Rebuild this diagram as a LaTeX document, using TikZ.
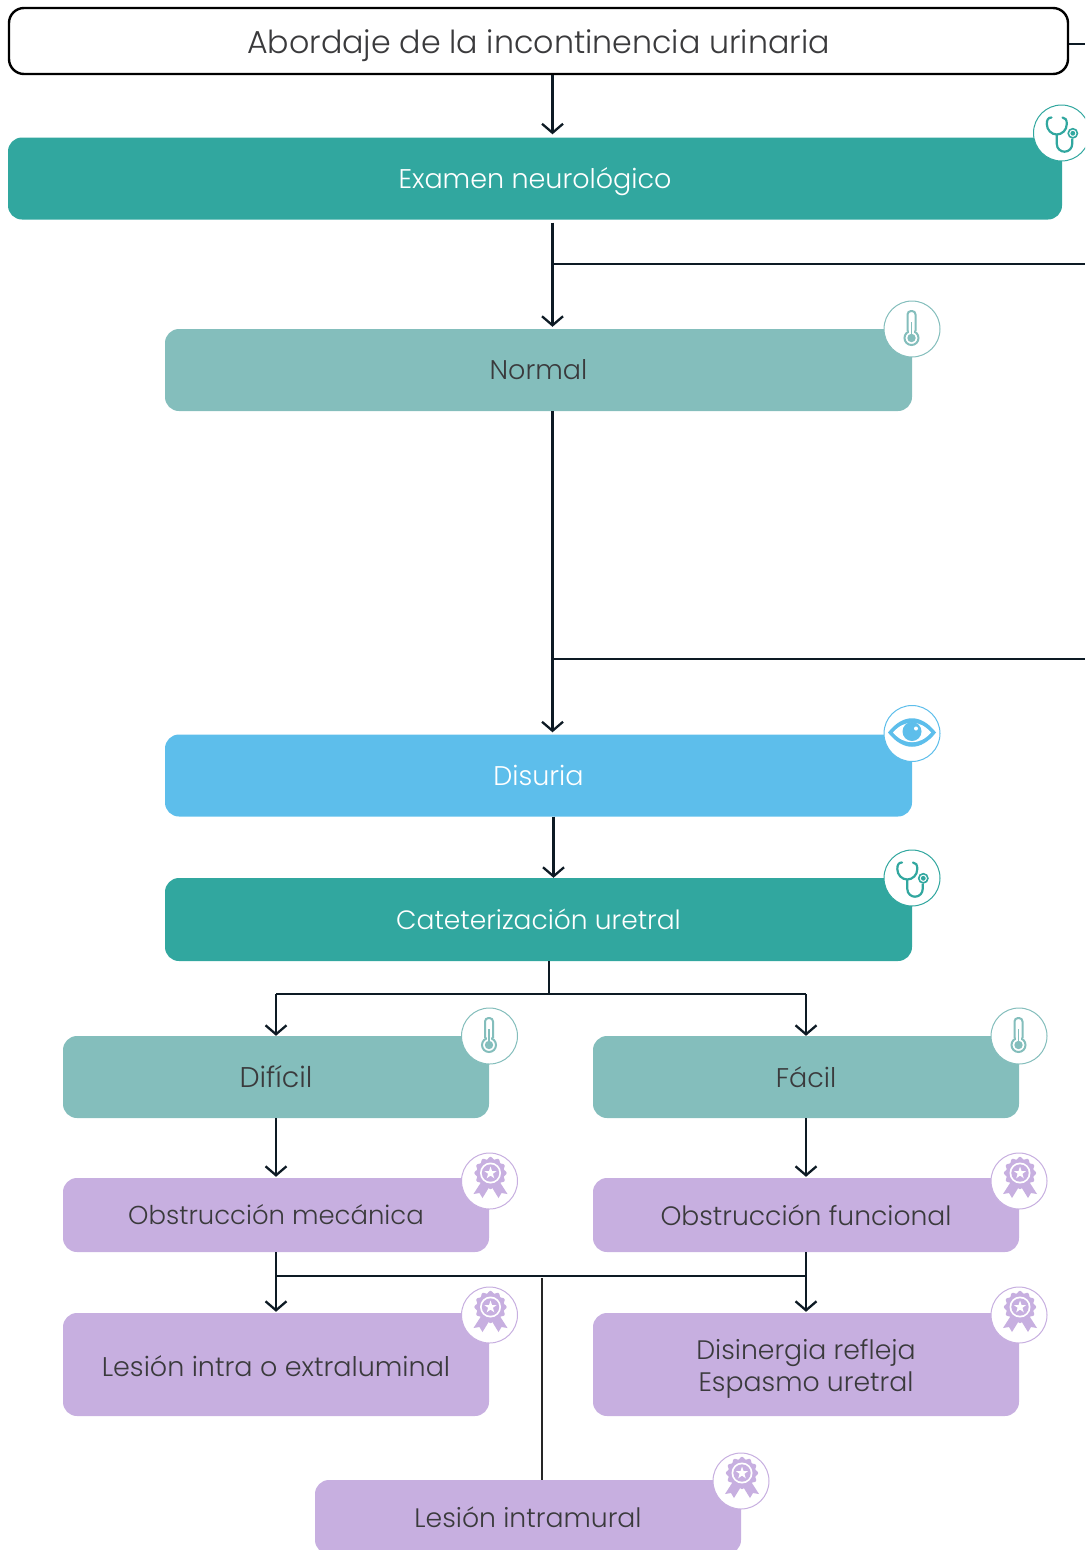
\documentclass[tikz,border=0pt]{standalone}
\usepackage{fontspec}
\setmainfont{Poppins Light}
\usetikzlibrary{arrows.meta}
\definecolor{teal1}{HTML}{31A79F}
\definecolor{teal2}{HTML}{84BEBC}
\definecolor{sky1}{HTML}{5DBEEB}
\definecolor{lila}{HTML}{C7AFE0}
\definecolor{ink}{HTML}{3A3A3C}
\definecolor{wire}{HTML}{0D1A24}
\newcommand\lowered[2]{\raisebox{-#1pt}[\height][\depth]{#2}}
\newcommand\fsz[1]{\fontsize{#1}{32}\selectfont}
\tikzset{
 x=1pt,y=-1pt,
 box/.style={rounded corners=14pt,draw=none,inner sep=0pt},
 lab/.style={font=\fontsize{27}{32}\selectfont,align=center,text=#1},
 link/.style={draw=wire,line width=1.6pt},
 linkar/.style={draw=wire,line width=2.5pt,-{Straight Barb[length=9pt,width=21pt,line width=2.3pt]}},
 badge/.style={circle,draw=#1,fill=white,line width=1pt,minimum size=56pt,inner sep=0pt},
 pics/steth/.style={code={
  \draw[#1,line width=2.2pt,line cap=round,fill=none]
   (-10,-15.5) .. controls (-13.5,-15.5) and (-14.7,-13) .. (-14.7,-9) .. controls (-14.7,-3) and (-10,1.5) .. (-4.7,1.5) .. controls (0.5,1.5) and (5.3,-3) .. (5.3,-9) .. controls (5.3,-13) and (4,-15.5) .. (1,-15.5);
  \draw[#1,line width=2.2pt,fill=none]
   (-4.7,1.5) -- (-4.7,11) .. controls (-4.7,16) and (-0.5,18.7) .. (3,18.7) .. controls (7.5,18.7) and (10.7,15) .. (10.7,11) -- (10.7,5.5);
  \draw[#1,line width=1.6pt,fill=white] (11.3,0.3) circle (4.6);
  \fill[#1] (11.3,0.3) circle (2.4);
 }},
 pics/thermo/.style={code={
  \draw[#1,line width=2pt,fill=white,rounded corners=3.5pt]
   (-4.5,2) -- (-4.5,-18) -- (3.5,-18) -- (3.5,2);
  \draw[#1,line width=2pt,fill=white] (-0.5,9) circle (7);
  \fill[white] (-2.9,0) rectangle (1.9,6);
  \fill[#1] (-0.5,9) circle (4.2);
  \draw[#1,line width=1.5pt] (-0.5,9) -- (-0.5,-7);
 }},
 pics/eyeball/.style={code={
  \fill[#1] (-24,-1) .. controls (-9,-20) and (9,-20) .. (24,-1) .. controls (9,18) and (-9,18) .. (-24,-1) -- cycle;
  \fill[white] (-19,-1) .. controls (-8,-14) and (8,-14) .. (19,-1) .. controls (8,12) and (-8,12) .. (-19,-1) -- cycle;
  \fill[#1] (0,-2) circle (9.5);
  \fill[white] (4,-5) circle (2);
 }},
 pics/ribbon/.style={code={
  \fill[#1] (-7,-1) -- (-16,13) -- (-10,12) -- (-7,17) -- (1,4) -- cycle;
  \fill[#1] (9,-1) -- (18,13) -- (12,12) -- (9,17) -- (1,4) -- cycle;
  \fill[#1] plot[domain=0:360,samples=121,smooth,variable=\t] ({1+(15+1.1*cos(12*\t))*cos(\t)},{-8+(15+1.1*cos(12*\t))*sin(\t)}) -- cycle;
  \fill[white] (1,-8) circle (10.5);
  \fill[#1] (1,-8) circle (8.7);
  \fill[white] (1,-14.5) -- (2.5,-10) -- (7.2,-10) -- (3.4,-7.2) -- (4.8,-2.7) -- (1,-5.4) -- (-2.8,-2.7) -- (-1.4,-7.2) -- (-5.2,-10) -- (-0.5,-10) -- cycle;
 }},
}
\begin{document}
\begin{tikzpicture}
\useasboundingbox (0,0) rectangle (1085,1550);
\begin{scope}
\clip (0,0) rectangle (1085,1550);
% boxes
\node[draw=black,fill=white,line width=2.4pt,rounded corners=15pt,minimum width=1059pt,minimum height=66pt,inner sep=0pt,lab=ink,font=\fsz{31.7}] (top) at (538.5,41) {\lowered{4.5}{Abordaje de la incontinencia urinaria}};
\node[box,fill=teal1,minimum width=1054pt,minimum height=82pt,lab=white] (exam) at (535,178.5) {\lowered{3}{Examen neurológico}};
\node[box,fill=teal2,minimum width=747pt,minimum height=82pt,lab=ink] (normal) at (538.5,370) {Normal};
\node[box,fill=sky1,minimum width=747pt,minimum height=82pt,lab=white] (disuria) at (538.5,775.5) {Disuria};
\node[box,fill=teal1,minimum width=747pt,minimum height=83pt,lab=white,font=\fsz{26.5}] (cat) at (538.5,919.5) {Cateterización uretral};
\node[box,fill=teal2,minimum width=426pt,minimum height=82pt,lab=ink,font=\fsz{28.5}] (dificil) at (276,1077) {Difícil};
\node[box,fill=teal2,minimum width=426pt,minimum height=82pt,lab=ink] (facil) at (806,1077) {Fácil};
\node[box,fill=lila,minimum width=426pt,minimum height=74pt,lab=ink,font=\fsz{25.9}] (mec) at (276,1215) {Obstrucción mecánica};
\node[box,fill=lila,minimum width=426pt,minimum height=74pt,lab=ink,font=\fsz{26.6}] (func) at (806,1215) {Obstrucción funcional};
\node[box,fill=lila,minimum width=426pt,minimum height=103pt,lab=ink] (intra) at (276,1364.5) {\lowered{1.5}{Lesión intra o extraluminal}};
\node[box,fill=lila,minimum width=426pt,minimum height=103pt,lab=ink,font=\fsz{26.7}] (disin) at (806,1364.5) {\lowered{4}{Disinergia refleja}\\\lowered{4}{Espasmo uretral}};
\node[box,fill=lila,minimum width=426pt,minimum height=74pt,lab=ink,font=\fsz{26.7}] (mural) at (528,1517) {Lesión intramural};
% helper coordinates
\coordinate (xa) at (552.5,0);
\coordinate (xb) at (553.5,0);
\coordinate (xc) at (549,0);
\coordinate (xd) at (542,0);
\coordinate (ja) at (552.5,264);
\coordinate (jb) at (552.5,659);
\coordinate (ea) at (1085,264);
\coordinate (eb) at (1085,659);
\coordinate (ec) at (1085,44);
\coordinate (sl) at (276,994);
\coordinate (sm) at (549,994);
\coordinate (sr) at (806,994);
\coordinate (tl) at (276,1276);
\coordinate (tr) at (806,1276);
\coordinate (tm) at (542,1278);
% connectors
\draw[linkar,shorten >=3pt] (top.south -| xa) -- (exam.north -| xa);
\draw[linkar,shorten <=3pt,shorten >=2pt] (exam.south -| xa) -- (normal.north -| xa);
\draw[link] (ja) -- (ea);
\draw[linkar,shorten >=2pt] (normal.south -| xa) -- (disuria.north -| xa);
\draw[link] (jb) -- (eb);
\draw[link] (top.east |- ec) -- (ec);
\draw[linkar] (disuria.south -| xb) -- (cat.north -| xb);
\draw[link] (cat.south -| xc) -- (sm);
\draw[link] (sl) -- (sr);
\draw[linkar] (sl) -- (dificil.north);
\draw[linkar] (sr) -- (facil.north);
\draw[linkar,shorten >=1pt] (dificil.south) -- (mec.north);
\draw[linkar,shorten >=1pt] (facil.south) -- (func.north);
\draw[linkar,shorten >=1pt] (mec.south) -- (intra.north);
\draw[linkar,shorten >=1pt] (func.south) -- (disin.north);
\draw[link] (tl) -- (tr);
\draw[link,draw=black!85] (tm) -- (mural.north -| xd);
% badges
\node[badge=teal1] (b1) at (1061.5,133) {}; \pic at (b1) {steth=teal1};
\node[badge=teal2] (b2) at (912,329) {}; \pic at (b2) {thermo=teal2};
\node[badge=sky1] (b3) at (912,733.5) {}; \pic at (b3) {eyeball=sky1};
\node[badge=teal1] (b4) at (912,878) {}; \pic at (b4) {steth=teal1};
\node[badge=teal2] (b5) at (489.5,1036) {}; \pic at (b5) {thermo=teal2};
\node[badge=teal2] (b6) at (1019,1036) {}; \pic at (b6) {thermo=teal2};
\node[badge=lila] (b7) at (489.5,1181) {}; \pic at (b7) {ribbon=lila};
\node[badge=lila] (b8) at (1019,1181) {}; \pic at (b8) {ribbon=lila};
\node[badge=lila] (b9) at (489.5,1315) {}; \pic at (b9) {ribbon=lila};
\node[badge=lila] (b10) at (1019,1315) {}; \pic at (b10) {ribbon=lila};
\node[badge=lila] (b11) at (741,1481) {}; \pic at (b11) {ribbon=lila};
\end{scope}
\end{tikzpicture}
\end{document}
